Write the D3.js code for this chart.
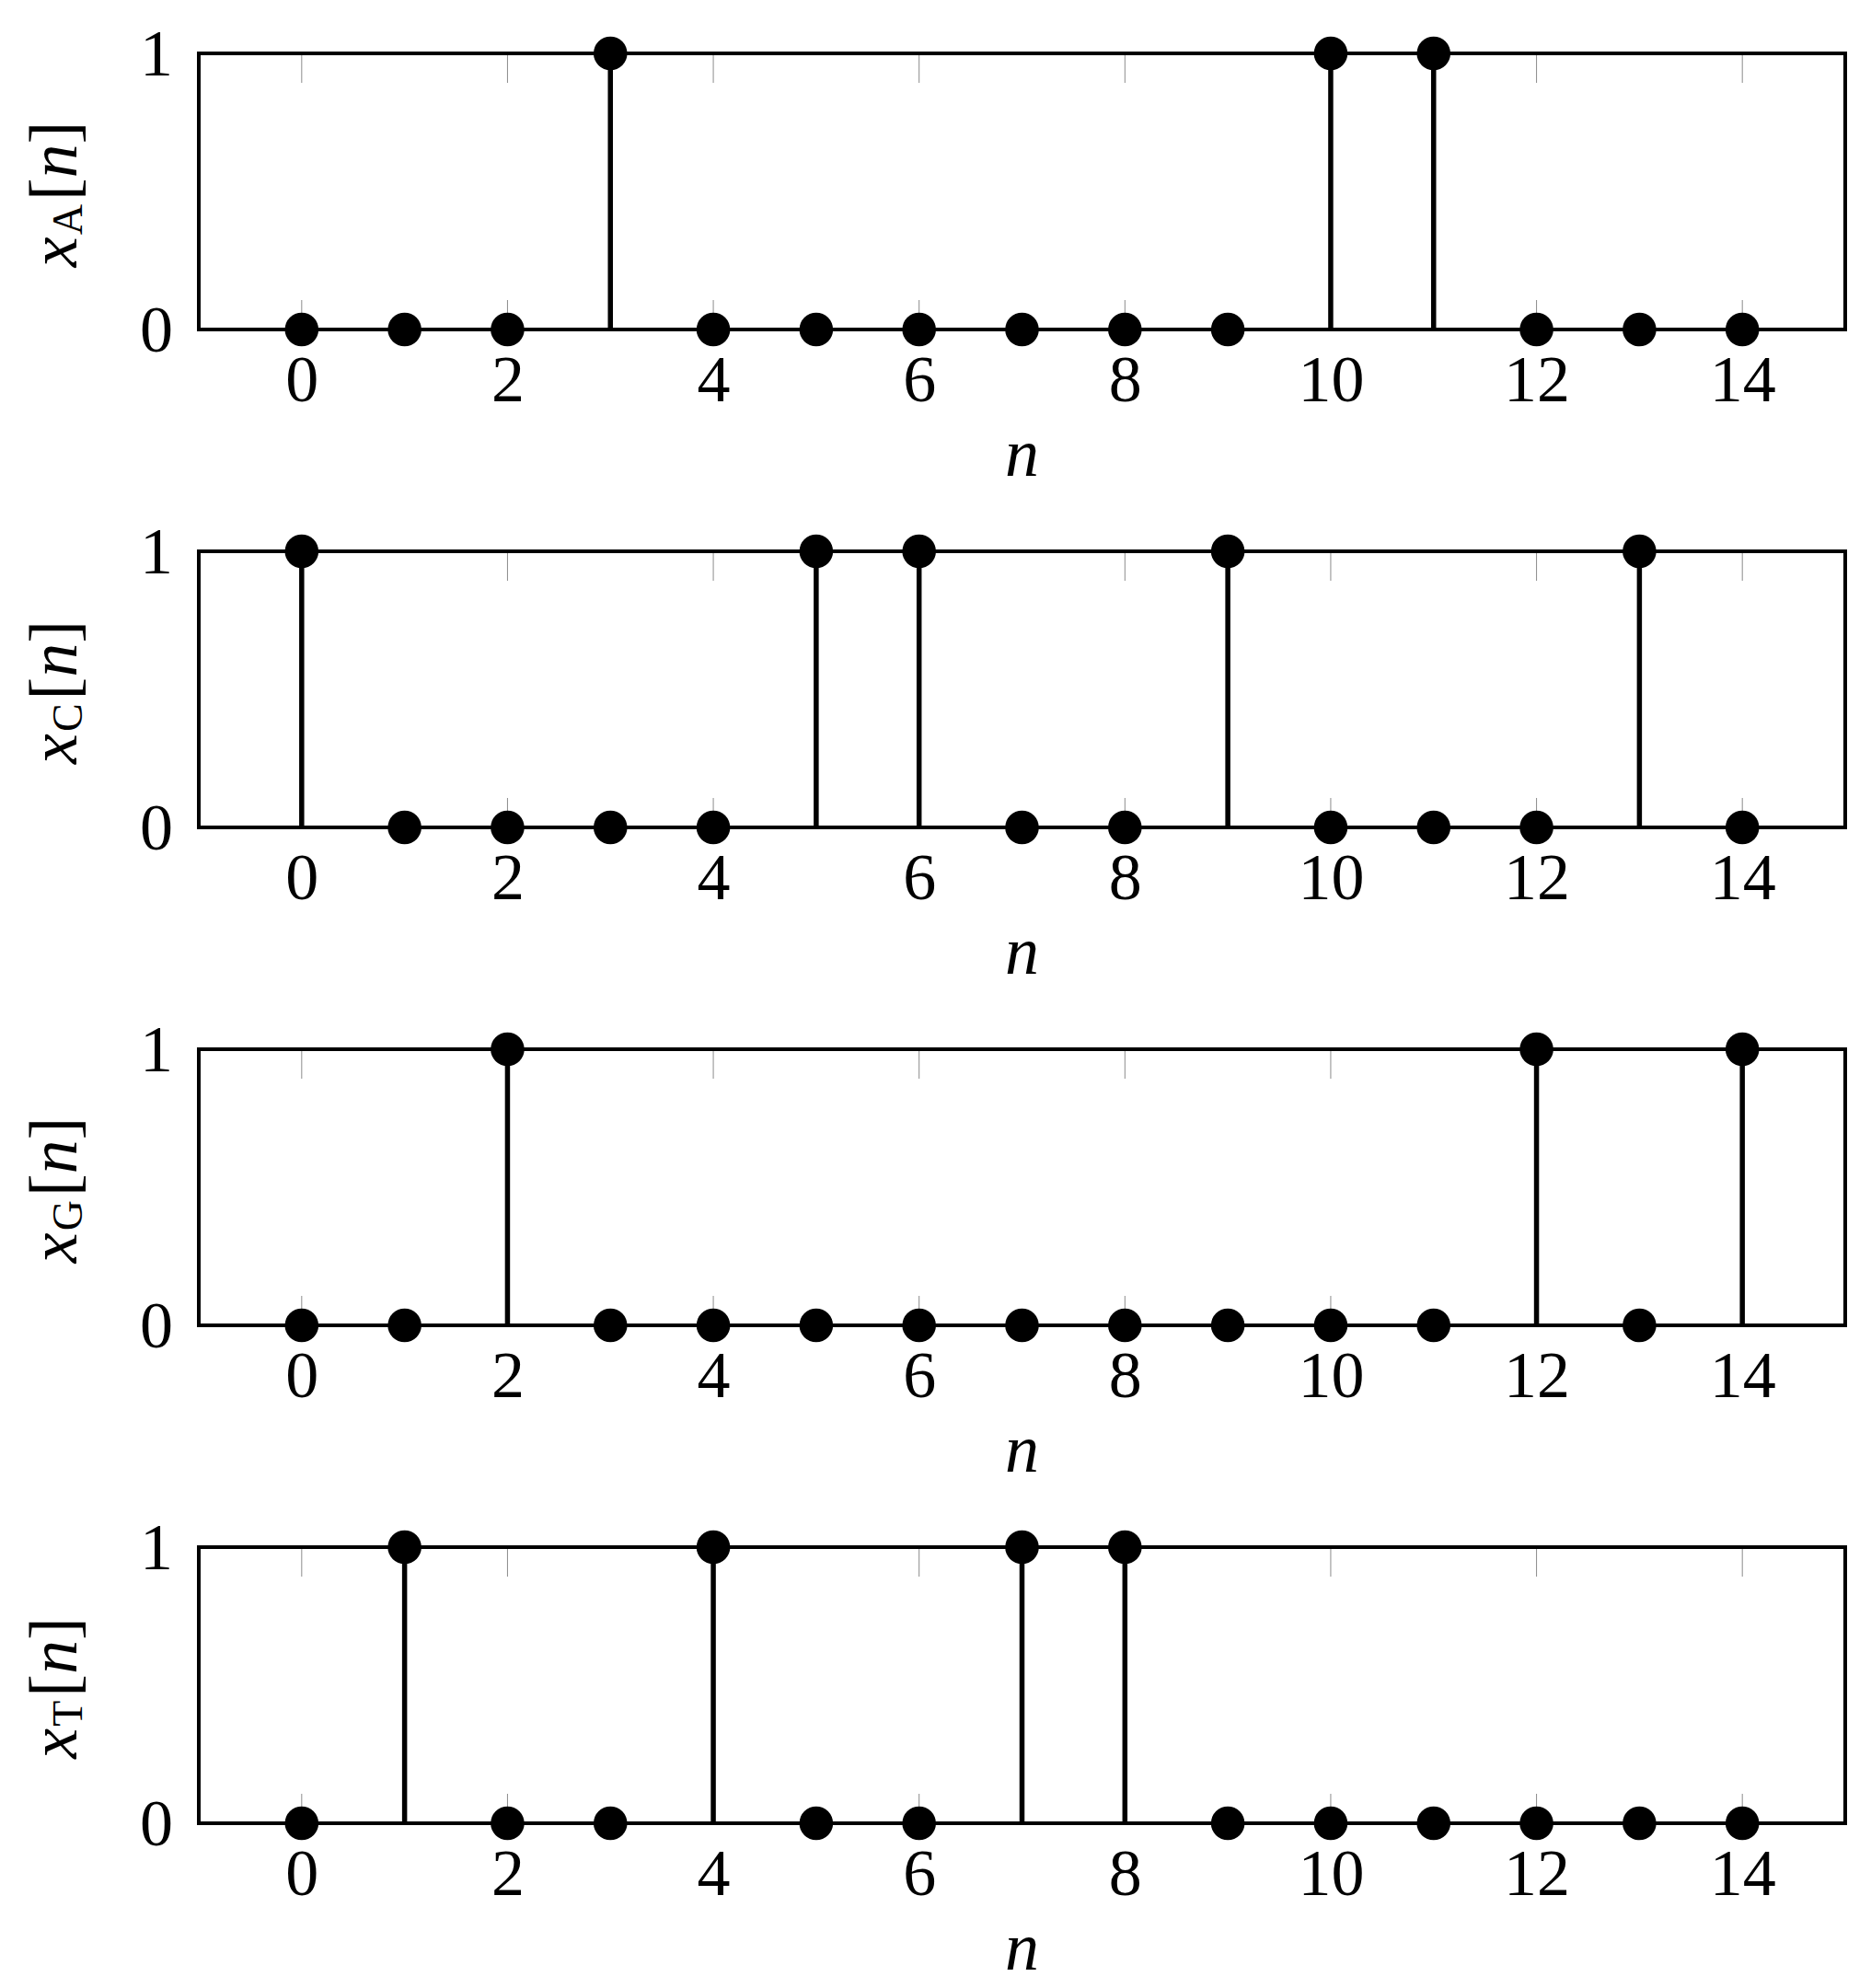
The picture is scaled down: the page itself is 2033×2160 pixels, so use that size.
<!DOCTYPE html>
<html>
<head>
    <style>
        body { margin: 0; background: #fff; }
    </style>
    <script src="https://d3js.org/d3.v7.min.js"></script>
</head>
<body>
    <div id="chart"></div>

    <script>
        // Sample index and the one-hot encoded sequences
        const n = d3.range(0, 15);
        const xA = [0, 0, 0, 1, 0, 0, 0, 0, 0, 0, 1, 1, 0, 0, 0];
        const xC = [1, 0, 0, 0, 0, 1, 1, 0, 0, 1, 0, 0, 0, 1, 0];
        const xG = [0, 0, 1, 0, 0, 0, 0, 0, 0, 0, 0, 0, 1, 0, 1];
        const xT = [0, 1, 0, 0, 1, 0, 0, 1, 1, 0, 0, 0, 0, 0, 0];
        const letters = ["A", "C", "G", "T"];
        const series = [xA, xC, xG, xT];
        const xTicks = [0, 2, 4, 6, 8, 10, 12, 14];
        const yTicks = [0, 1];

        const W = 2033, H = 2160;
        const left = 216, right = 2005;
        const panelTop = 58, panelH = 300, panelStep = 541;
        const serif = "'Liberation Serif', 'Times New Roman', serif";

        const svg = d3.select("#chart").append("svg")
            .attr("width", W)
            .attr("height", H);

        const x = d3.scaleLinear().domain([-1, 15]).range([left, right]);

        series.forEach((vals, i) => {
            const top = panelTop + i * panelStep;
            const bottom = top + panelH;
            const y = d3.scaleLinear().domain([0, 1]).range([bottom, top]);
            const g = svg.append("g");

            // small gray ticks inside the box
            xTicks.forEach(t => {
                g.append("line")
                    .attr("x1", x(t)).attr("x2", x(t))
                    .attr("y1", top).attr("y2", top + 32)
                    .attr("stroke", "#8c8c8c").attr("stroke-width", 1);
                g.append("line")
                    .attr("x1", x(t)).attr("x2", x(t))
                    .attr("y1", bottom - 32).attr("y2", bottom)
                    .attr("stroke", "#8c8c8c").attr("stroke-width", 1);
            });

            // axis box
            g.append("rect")
                .attr("x", left).attr("y", top)
                .attr("width", right - left).attr("height", panelH)
                .attr("fill", "none")
                .attr("stroke", "#000")
                .attr("stroke-width", 4);

            // x tick labels
            g.append("g")
                .attr("transform", `translate(0,${bottom})`)
                .call(d3.axisBottom(x).tickValues(xTicks).tickFormat(d3.format("d")).tickSize(0).tickPadding(27))
                .call(a => a.select(".domain").remove())
                .selectAll("text")
                .style("font-family", serif)
                .style("font-size", "72px")
                .style("fill", "#000");

            // y tick labels
            g.append("g")
                .attr("transform", `translate(${left},0)`)
                .call(d3.axisLeft(y).tickValues(yTicks).tickFormat(d3.format("d")).tickSize(0).tickPadding(28))
                .call(a => a.select(".domain").remove())
                .selectAll("text")
                .style("font-family", serif)
                .style("font-size", "72px")
                .style("fill", "#000");

            // stems
            g.selectAll(".stem")
                .data(n.filter(k => vals[k] !== 0))
                .enter()
                .append("line")
                .attr("class", "stem")
                .attr("x1", k => x(k)).attr("x2", k => x(k))
                .attr("y1", y(0)).attr("y2", k => y(vals[k]))
                .attr("stroke", "#000")
                .attr("stroke-width", 5.5);

            // markers
            g.selectAll(".mark")
                .data(n)
                .enter()
                .append("circle")
                .attr("class", "mark")
                .attr("cx", k => x(k))
                .attr("cy", k => y(vals[k]))
                .attr("r", 18.3)
                .attr("fill", "#000");

            // x axis title
            g.append("text")
                .attr("x", (left + right) / 2)
                .attr("y", bottom + 159)
                .attr("text-anchor", "middle")
                .style("font-family", serif)
                .style("font-size", "74px")
                .style("font-style", "italic")
                .text("n");

            // y axis title
            const yl = g.append("text")
                .attr("transform", `translate(83,${(top + bottom) / 2 + 3}) rotate(-90)`)
                .attr("text-anchor", "middle")
                .style("font-family", serif)
                .style("font-size", "74px");
            yl.append("tspan").style("font-style", "italic").text("x");
            yl.append("tspan")
                .style("font-size", "46px")
                .attr("dx", 2)
                .attr("dy", 6)
                .text(letters[i]);
            yl.append("tspan").attr("dx", 4).attr("dy", -6).text("[");
            yl.append("tspan").style("font-style", "italic").text("n");
            yl.append("tspan").text("]");
        });
    </script>
</body>
</html>
